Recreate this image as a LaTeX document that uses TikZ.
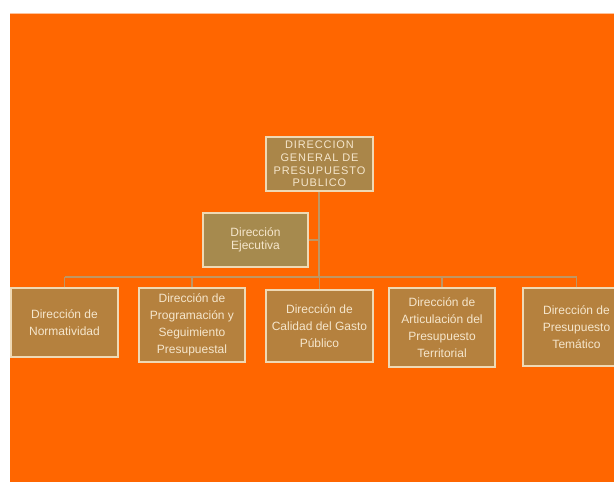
\documentclass[tikz,border=0pt]{standalone}
\usepackage{fontspec}
\setmainfont{Liberation Sans}
\definecolor{bgorange}{HTML}{FF6600}
\definecolor{boxfill}{HTML}{B5813E}
\definecolor{boxfilltop}{HTML}{AA8649}
\definecolor{boxfillstaff}{HTML}{A68A4E}
\definecolor{boxedge}{HTML}{EFD9B4}
\definecolor{linktan}{HTML}{BF9663}
\definecolor{labeltext}{HTML}{F5E6CC}
\begin{document}
\begin{tikzpicture}[x=1pt,y=-1pt,
  unit/.style={rectangle,draw=boxedge,line width=1.3pt,fill=boxfill,
    text=labeltext,inner sep=0pt,align=center,font=\fontsize{12}{17}\selectfont},
  headunit/.style={unit,fill=boxfilltop,
    font=\addfontfeatures{LetterSpace=8}\fontsize{11}{12.7}\selectfont},
  staffunit/.style={unit,fill=boxfillstaff,font=\fontsize{12}{13.5}\selectfont},
  link/.style={draw=linktan,line width=1.5pt}]
  \useasboundingbox (0,0) rectangle (614,482);
  \clip (0,0) rectangle (614,482);
  % page background
  \fill[bgorange] (10,13) rectangle (614,482);
  \draw[white!60!bgorange,line width=0.8pt] (10,13.4) -- (614,13.4);

  % head office
  \node[headunit,minimum width=107pt,minimum height=54pt] (dg) at (319.5,164)
    {DIRECCION\\GENERAL DE\\PRESUPUESTO\\PUBLICO};
  % staff office
  \node[staffunit,minimum width=105pt,minimum height=54pt] (ejec) at (255.5,240)
    {Dirección\\Ejecutiva};

  % line offices
  \node[unit,minimum width=107pt,minimum height=69pt] (norm) at (64.5,322.5)
    {Dirección de\\Normatividad};
  \node[unit,minimum width=106pt,minimum height=74pt] (prog) at (192,325)
    {Dirección de\\Programación y\\Seguimiento\\Presupuestal};
  \node[unit,minimum width=107pt,minimum height=72pt] (cal) at (319.5,326)
    {Dirección de\\Calidad del Gasto\\Público};
  \node[unit,minimum width=106pt,minimum height=79pt] (art) at (442,327.5)
    {Dirección de\\Articulación del\\Presupuesto\\Territorial};
  \node[unit,minimum width=107pt,minimum height=78pt] (tem) at (576.5,327)
    {Dirección de\\Presupuesto\\Temático};

  % connectors: trunk, staff branch, bus and drops
  \coordinate (bus) at (0,277);
  \coordinate (trunk) at ([xshift=-0.5pt]dg.south);
  \draw[link] (trunk) -- (trunk |- bus);
  \draw[link] (ejec.east) -- (ejec.east -| trunk);
  \draw[link] (norm.north |- bus) -- (tem.north |- bus);
  \foreach \u in {norm,prog,cal,art,tem}
    \draw[link] (\u.north) -- (\u.north |- bus);
\end{tikzpicture}
\end{document}
